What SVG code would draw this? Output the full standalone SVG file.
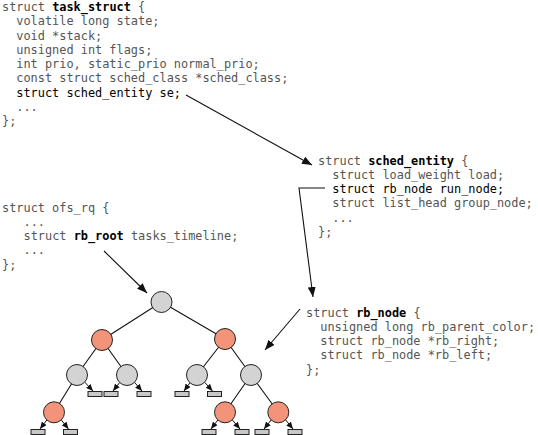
<svg xmlns="http://www.w3.org/2000/svg" width="538" height="435" viewBox="0 0 538 435">
<defs>
<style>
text{font-family:"DejaVu Sans Mono","Liberation Mono",monospace;font-size:11.9px;fill:#555}
.k{fill:#000}
.b{fill:#000;font-weight:bold}
.e{stroke:#111;stroke-width:1.1;fill:none}
.a{stroke:#111;stroke-width:1.1;fill:none;marker-end:url(#ah)}
.s{stroke:#111;stroke-width:1;fill:none;marker-end:url(#sh)}
.g{fill:#d3d3d3;stroke:#222;stroke-width:1}
.r{fill:#f39379;stroke:#222;stroke-width:1}
.l{fill:#c8c8c8;stroke:#222;stroke-width:1}
</style>
<marker id="ah" markerUnits="userSpaceOnUse" markerWidth="10" markerHeight="8" refX="10" refY="4" orient="auto"><path d="M0,0 L10,4 L0,8 z" fill="#111"/></marker>
<marker id="sh" markerUnits="userSpaceOnUse" markerWidth="7" markerHeight="6" refX="7" refY="3" orient="auto"><path d="M0,0 L7,3 L0,6 z" fill="#111"/></marker>
</defs>
<rect width="538" height="435" fill="#fff"/>
<g id="task_struct">
<text x="2" y="11">struct <tspan class="b">task_struct</tspan> {</text>
<text x="16.3" y="25.3">volatile long state;</text>
<text x="16.3" y="39.5">void *stack;</text>
<text x="16.3" y="53.8">unsigned int flags;</text>
<text x="16.3" y="68">int prio, static_prio normal_prio;</text>
<text x="16.3" y="82.3">const struct sched_class *sched_class;</text>
<text x="16.3" y="96.5" class="k">struct sched_entity se;</text>
<text x="16.3" y="110.8">...</text>
<text x="2" y="125">};</text>
</g>
<g id="sched_entity">
<text x="318" y="164.5">struct <tspan class="b">sched_entity</tspan> {</text>
<text x="332.3" y="178.8">struct load_weight load;</text>
<text x="332.3" y="193" class="k">struct rb_node run_node;</text>
<text x="332.3" y="207.3">struct list_head group_node;</text>
<text x="332.3" y="221.5">...</text>
<text x="318" y="235.8">};</text>
</g>
<g id="ofs_rq">
<text x="2" y="211.5">struct ofs_rq {</text>
<text x="23.5" y="225.8">...</text>
<text x="23.5" y="240">struct <tspan class="b">rb_root</tspan> tasks_timeline;</text>
<text x="23.5" y="254.3">...</text>
<text x="2" y="268.5">};</text>
</g>
<g id="rb_node">
<text x="306" y="316.5">struct <tspan class="b">rb_node</tspan> {</text>
<text x="320.3" y="330.8">unsigned long rb_parent_color;</text>
<text x="320.3" y="345">struct rb_node *rb_right;</text>
<text x="320.3" y="359.3">struct rb_node *rb_left;</text>
<text x="306" y="373.5">};</text>
</g>
<g id="connectors">
<path class="a" d="M186,95 L312,165"/>
<path class="a" d="M325,188 H299 L313,297"/>
<path class="a" d="M300,309 L265,350"/>
<path class="a" d="M104,251 L147,293"/>
<path class="e" d="M161.5,302 L102,340 M161.5,302 L225,339 M102,340 L77,375 M102,340 L127,375 M225,339 L197,375 M225,339 L251,375 M77,375 L54,412.3 M251,375 L225,412.3 M251,375 L278.3,412.3"/>
<path class="s" d="M84.7,382.1 L93,391"/>
<path class="s" d="M119.7,382.5 L113,391"/>
<path class="s" d="M134.5,382.3 L142,391"/>
<path class="s" d="M189.9,382.8 L184,391"/>
<path class="s" d="M204.6,382.2 L212.5,391"/>
<path class="s" d="M46.8,420 L40,429"/>
<path class="s" d="M61.3,419.9 L68.5,429"/>
<path class="s" d="M217.8,420 L211,429"/>
<path class="s" d="M232.3,419.9 L240,429"/>
<path class="s" d="M271.1,420 L264,429"/>
<path class="s" d="M285.6,419.9 L293,429"/>
</g>
<g id="tree">
<circle id="n1" class="g" cx="161.5" cy="302" r="10.5"/>
<circle id="n2" class="r" cx="102" cy="340" r="10.5"/>
<circle id="n3" class="r" cx="225" cy="339" r="10.5"/>
<circle id="n4" class="g" cx="77" cy="375" r="10.5"/>
<circle id="n5" class="g" cx="127" cy="375" r="10.5"/>
<circle id="n6" class="g" cx="197" cy="375" r="10.5"/>
<circle id="n7" class="g" cx="251" cy="375" r="10.5"/>
<circle id="n8" class="r" cx="54" cy="412.3" r="10.5"/>
<circle id="n9" class="r" cx="225" cy="412.3" r="10.5"/>
<circle id="n10" class="r" cx="278.3" cy="412.3" r="10.5"/>
<rect class="l" x="88" y="391.5" width="14" height="5"/>
<rect class="l" x="104" y="391.5" width="14" height="5"/>
<rect class="l" x="137" y="391.5" width="14" height="5"/>
<rect class="l" x="175" y="391.5" width="14" height="5"/>
<rect class="l" x="207.5" y="391.5" width="14" height="5"/>
<rect class="l" x="31" y="429.5" width="14" height="5"/>
<rect class="l" x="63.5" y="429.5" width="14" height="5"/>
<rect class="l" x="202" y="429.5" width="14" height="5"/>
<rect class="l" x="235" y="429.5" width="14" height="5"/>
<rect class="l" x="255" y="429.5" width="14" height="5"/>
<rect class="l" x="288" y="429.5" width="14" height="5"/>
</g>
</svg>
